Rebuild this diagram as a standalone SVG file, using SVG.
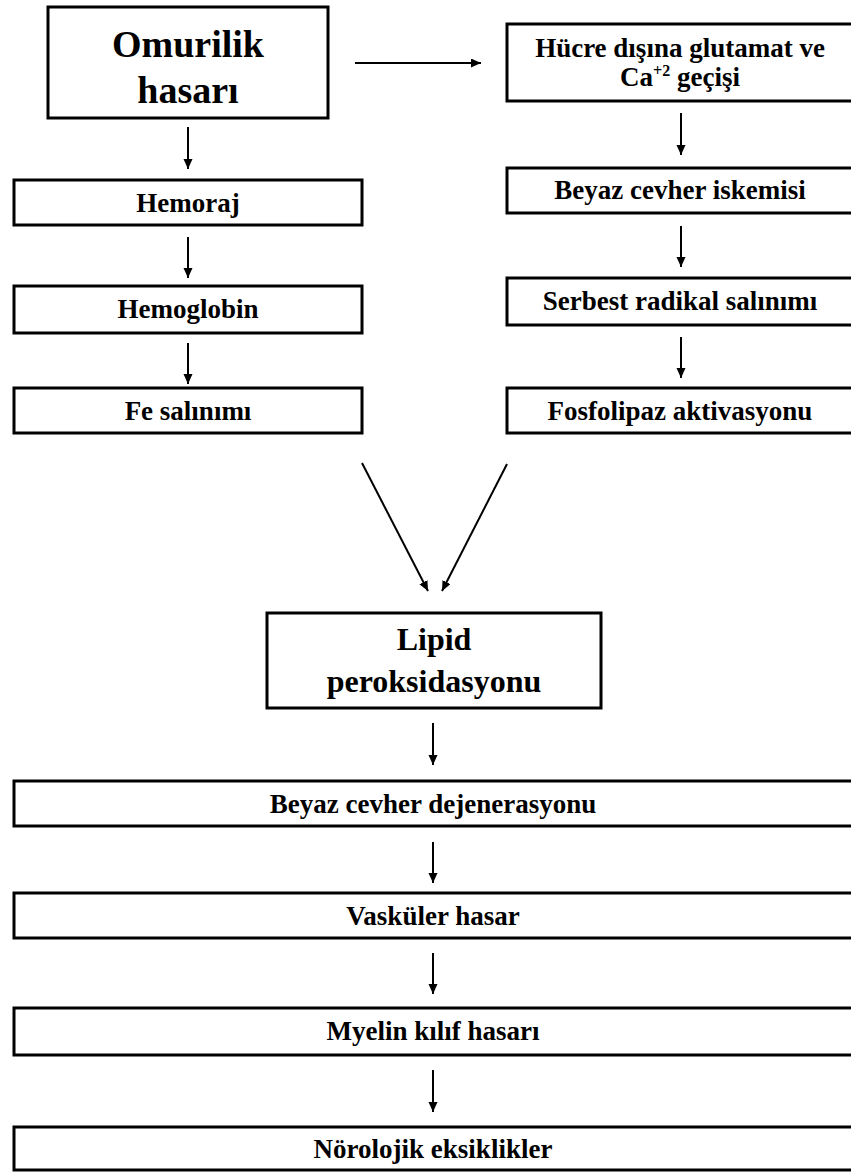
<svg xmlns="http://www.w3.org/2000/svg" width="851" height="1172" viewBox="0 0 851 1172">
<defs>
<style>
.box{fill:#fff;stroke:#000;stroke-width:3}
.t{font-family:"Liberation Serif","Times New Roman",serif;font-weight:bold;fill:#000;text-anchor:middle}
.s{font-size:27px}
.l{font-size:38px}
.m{font-size:32px}
.c{stroke:#000;stroke-width:2;fill:none;marker-end:url(#ah)}
</style>
<marker id="ah" markerUnits="userSpaceOnUse" markerWidth="12" markerHeight="10" refX="10" refY="4.5" orient="auto">
<path d="M0,0 L10,4.5 L0,9 z" fill="#000"/>
</marker>
</defs>
<rect width="851" height="1172" fill="#fff"/>
<g id="connectors">
<line class="c" x1="355" y1="63" x2="481" y2="63"/>
<line class="c" x1="188" y1="127" x2="188" y2="169"/>
<line class="c" x1="188" y1="237" x2="188" y2="278"/>
<line class="c" x1="188" y1="343" x2="188" y2="384"/>
<line class="c" x1="681" y1="113" x2="681" y2="155"/>
<line class="c" x1="681" y1="226" x2="681" y2="267"/>
<line class="c" x1="681" y1="337" x2="681" y2="378"/>
<line class="c" x1="362" y1="463" x2="428" y2="591"/>
<line class="c" x1="507" y1="464" x2="442" y2="591"/>
<line class="c" x1="433" y1="723" x2="433" y2="765"/>
<line class="c" x1="433" y1="842" x2="433" y2="883"/>
<line class="c" x1="433" y1="953" x2="433" y2="994"/>
<line class="c" x1="433" y1="1070" x2="433" y2="1112"/>
</g>
<g id="n-omurilik">
<rect class="box" x="48" y="7" width="280" height="111"/>
<text class="t l" x="188" y="57">Omurilik</text>
<text class="t l" x="188" y="103">hasarı</text>
</g>
<g id="n-hucre">
<rect class="box" x="507" y="24" width="350" height="77"/>
<text class="t s" x="680" y="57">Hücre dışına glutamat ve</text>
<text class="t s" x="680" y="86">Ca<tspan font-size="16" dy="-10">+2</tspan><tspan dy="10"> geçişi</tspan></text>
</g>
<g id="n-hemoraj">
<rect class="box" x="14" y="180" width="348" height="45"/>
<text class="t s" x="188" y="212">Hemoraj</text>
</g>
<g id="n-hemoglobin">
<rect class="box" x="14" y="286" width="348" height="47"/>
<text class="t s" x="188" y="318">Hemoglobin</text>
</g>
<g id="n-fe">
<rect class="box" x="14" y="388" width="348" height="45"/>
<text class="t s" x="188" y="420">Fe salınımı</text>
</g>
<g id="n-beyaz-iskemi">
<rect class="box" x="507" y="168" width="350" height="45"/>
<text class="t s" x="680" y="199">Beyaz cevher iskemisi</text>
</g>
<g id="n-serbest">
<rect class="box" x="507" y="278" width="350" height="47"/>
<text class="t s" x="680" y="310">Serbest radikal salınımı</text>
</g>
<g id="n-fosfolipaz">
<rect class="box" x="507" y="388" width="350" height="45"/>
<text class="t s" x="680" y="420">Fosfolipaz aktivasyonu</text>
</g>
<g id="n-lipid">
<rect class="box" x="267" y="613" width="334" height="95"/>
<text class="t m" x="434" y="650">Lipid</text>
<text class="t m" x="434" y="692">peroksidasyonu</text>
</g>
<g id="n-dejenerasyon">
<rect class="box" x="14" y="781" width="845" height="45"/>
<text class="t s" x="433" y="813">Beyaz cevher dejenerasyonu</text>
</g>
<g id="n-vaskuler">
<rect class="box" x="14" y="893" width="845" height="45"/>
<text class="t s" x="433" y="925">Vasküler hasar</text>
</g>
<g id="n-myelin">
<rect class="box" x="14" y="1008" width="845" height="47"/>
<text class="t s" x="433" y="1040">Myelin kılıf hasarı</text>
</g>
<g id="n-norolojik">
<rect class="box" x="14" y="1127" width="845" height="43"/>
<text class="t s" x="433" y="1158">Nörolojik eksiklikler</text>
</g>
</svg>
